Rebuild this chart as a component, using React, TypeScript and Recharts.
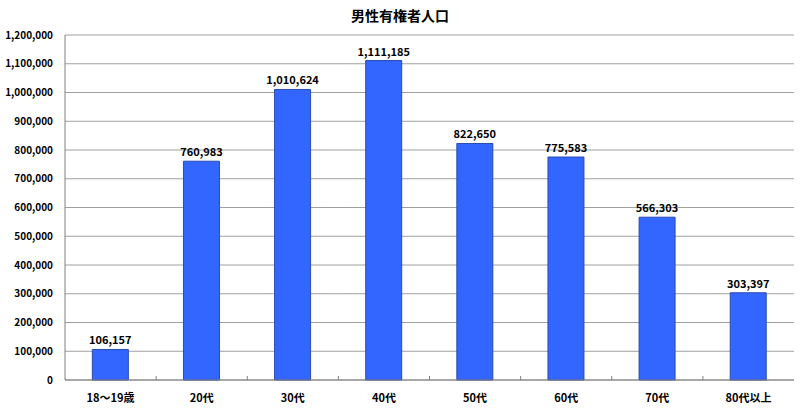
import React from "react"
import { Bar, BarChart, CartesianGrid, LabelList, XAxis, YAxis } from "recharts"

document.body.style.margin = "0"

const categories = ["18～19歳", "20代", "30代", "40代", "50代", "60代", "70代", "80代以上"]
const population = [106157, 760983, 1010624, 1111185, 822650, 775583, 566303, 303397]
const yTicks = [0, 100000, 200000, 300000, 400000, 500000, 600000, 700000, 800000, 900000, 1000000, 1100000, 1200000]

const data = categories.map((name, i) => ({ name, value: population[i] }))

const W = 800
const H = 411
const margin = { top: 35, right: 6, bottom: 0, left: 0 }
const yAxisW = 65
const xAxisH = 31
const band = (W - margin.right - yAxisW) / categories.length
const font = "'Noto Sans CJK JP', sans-serif"

const fmt = (v: number) => v.toLocaleString("en-US")

const XTick = (props: any) => {
  const { x, y, payload, index } = props
  const axisY = y - 8
  return (
    <g>
      {index > 0 && (
        <line x1={x - band / 2} x2={x - band / 2} y1={axisY} y2={axisY - 4} stroke="#808080" />
      )}
      <text x={x} y={y + 14} textAnchor="middle" fontSize={11} fontWeight="bold" fill="#000" fontFamily={font}>
        {payload.value}
      </text>
    </g>
  )
}

const App = () => {
  return (
    <div style={{ position: "relative", width: W, height: H, background: "#fff" }}>
      <div
        style={{
          position: "absolute",
          top: 6,
          left: 0,
          width: W,
          textAlign: "center",
          fontFamily: font,
          fontWeight: "bold",
          fontSize: 14,
          lineHeight: "18px",
        }}
      >
        男性有権者人口
      </div>
      <BarChart width={W} height={H} data={data} margin={margin} barCategoryGap="30%">
        <CartesianGrid vertical={false} stroke="#a0a0a0" strokeWidth={1} />
        <XAxis
          dataKey="name"
          height={xAxisH}
          axisLine={{ stroke: "#808080" }}
          tickLine={false}
          tick={<XTick />}
          interval={0}
        />
        <YAxis
          width={yAxisW}
          domain={[0, 1200000]}
          ticks={yTicks}
          interval={0}
          axisLine={{ stroke: "#808080" }}
          tickLine={false}
          tickMargin={6}
          tickFormatter={fmt}
          tick={{ fontSize: 10, fontWeight: "bold", fill: "#000", fontFamily: font }}
        />
        <Bar dataKey="value" fill="#3366ff" stroke="#2a4bb0" strokeWidth={1} isAnimationActive={false}>
          <LabelList
            dataKey="value"
            position="top"
            offset={5}
            formatter={(v: any) => fmt(Number(v))}
            style={{ fontSize: 11, fontWeight: "bold", fill: "#000", fontFamily: font }}
          />
        </Bar>
      </BarChart>
    </div>
  )
}

export default App
